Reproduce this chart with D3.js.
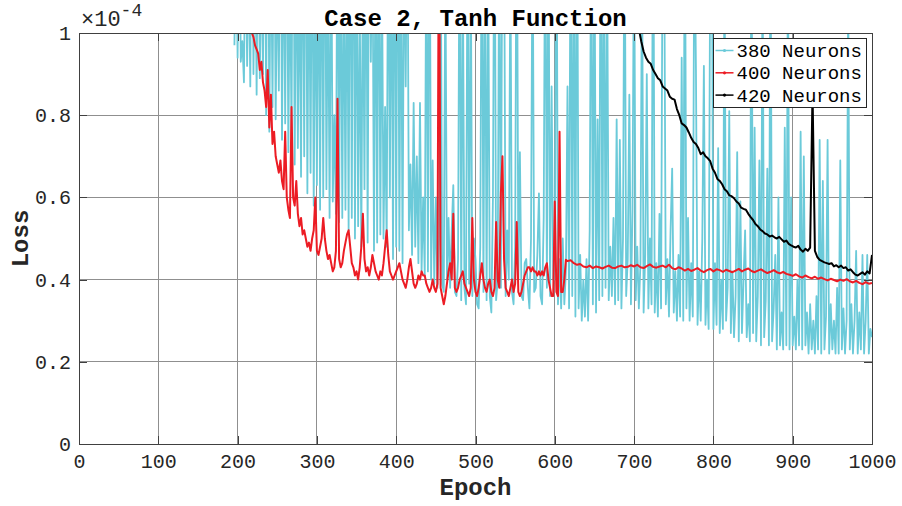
<!DOCTYPE html>
<html><head>
<meta charset="UTF-8">
<title>Case 2, Tanh Function</title>
<script src="https://d3js.org/d3.v7.min.js"></script>
<style>
  body { margin: 0; background: white; }
  text { font-family: "Liberation Mono", "DejaVu Sans Mono", monospace; fill: #262626; }
  .grid line { stroke: #8f8f8f; stroke-width: 1px; shape-rendering: crispEdges; }
  .axis path, .axis line { stroke: #404040; shape-rendering: crispEdges; }
  .axis text { font-size: 20px; fill: #262626; }
  .series { fill: none; stroke-linejoin: round; }
</style>
</head>
<body>
<script>

// loss values are stored in units of 1e-4 (the axis shows x10^-4)

// 380 neurons, epochs 196..598 every 2
var cyanStartA = 196, cyanStepA = 2;
var cyanLossA = [
  0.97, 1.30, 0.94, 1.40, 0.93, 0.98, 0.88, 1.30, 0.92, 1.20,
  0.87, 1.50, 0.90, 1.30, 0.85, 1.40, 0.89, 1.20, 0.90, 1.50,
  0.80, 1.60, 0.76, 1.30, 0.82, 1.40, 0.79, 1.20, 0.86, 1.50,
  0.74, 1.30, 0.78, 1.40, 0.71, 1.20, 0.75, 1.60, 0.68, 1.30,
  0.72, 1.20, 0.65, 1.40, 0.70, 1.50, 0.61, 1.30, 0.66, 1.40,
  0.58, 1.20, 0.63, 1.30, 0.57, 1.40, 0.60, 1.50, 0.62, 1.20,
  0.55, 1.30, 0.59, 0.80, 0.56, 1.40, 0.54, 1.30, 0.55, 1.20,
  0.57, 1.30, 0.52, 1.50, 0.55, 1.60, 0.50, 1.30, 0.53, 1.10,
  0.48, 1.20, 0.62, 1.40, 0.49, 1.50, 0.93, 1.30, 0.47, 1.30,
  0.49, 1.40, 0.51, 1.20, 0.50, 0.82, 0.48, 1.40, 0.60, 1.30,
  0.45, 1.50, 0.48, 1.60, 0.47, 1.30, 0.44, 1.30, 0.87, 1.40,
  0.52, 0.68, 0.46, 0.83, 0.48, 0.70, 0.44, 0.83, 0.42, 0.60,
  0.41, 1.30, 0.42, 1.50, 0.40, 0.69, 0.39, 0.60, 0.38, 0.50,
  1.30, 0.39, 0.37, 1.20, 0.40, 0.55, 0.38, 0.52, 0.63, 0.37,
  0.36, 0.45, 1.40, 0.35, 1.20, 0.38, 0.34, 1.30, 0.39, 1.20,
  0.36, 0.50, 0.45, 0.34, 0.33, 0.48, 1.40, 0.37, 1.30, 0.35,
  1.20, 0.36, 0.32, 0.60, 1.50, 0.35, 0.40, 1.30, 0.38, 1.40,
  1.30, 0.36, 0.52, 0.40, 1.20, 0.37, 0.34, 0.48, 1.50, 0.40,
  0.71, 0.36, 0.35, 0.44, 0.45, 0.38, 0.33, 0.50, 1.30, 0.37,
  0.38, 0.46, 0.61, 0.36, 0.34, 0.55, 1.40, 0.38, 1.30, 0.36,
  0.87, 0.40
];
// 380 neurons, epochs 600..1000 every 2
var cyanStartB = 600, cyanStepB = 2;
var cyanLossB = [
  0.40, 1.50, 0.34, 0.45, 0.33, 0.50, 0.34, 0.42, 0.87, 0.33,
  1.40, 0.36, 1.30, 0.31, 1.50, 0.33, 0.46, 0.30, 0.40, 0.31,
  0.45, 0.30, 0.52, 1.40, 0.34, 1.30, 0.32, 0.79, 0.35, 1.50,
  0.36, 1.30, 0.38, 1.20, 0.35, 0.48, 0.36, 0.55, 0.34, 0.79,
  0.35, 0.74, 0.33, 0.50, 1.40, 0.36, 0.45, 0.85, 0.34, 0.57,
  1.30, 0.35, 0.48, 0.33, 0.44, 1.20, 0.32, 0.46, 0.90, 0.33,
  0.50, 0.34, 1.50, 0.32, 0.44, 0.31, 0.56, 0.33, 1.30, 1.20,
  0.34, 0.45, 0.31, 0.52, 0.67, 0.32, 0.42, 0.30, 0.46, 0.31,
  0.94, 0.30, 1.40, 0.33, 0.55, 0.30, 0.44, 0.31, 1.30, 0.91,
  0.29, 0.42, 0.30, 0.50, 0.92, 0.29, 0.40, 0.28, 1.20, 1.30,
  0.28, 0.44, 0.29, 0.72, 0.27, 0.40, 0.28, 1.20, 0.30, 0.38,
  0.81, 0.27, 0.42, 0.26, 0.36, 0.71, 0.25, 0.59, 0.27, 0.40,
  0.52, 0.26, 0.34, 0.25, 1.30, 0.27, 0.77, 0.25, 0.36, 0.69,
  0.24, 1.20, 0.26, 0.35, 0.67, 0.24, 1.30, 0.25, 0.33, 0.46,
  0.23, 0.60, 0.24, 0.32, 0.23, 0.77, 0.24, 1.20, 0.23, 0.60,
  0.24, 0.31, 0.23, 0.40, 0.24, 0.76, 0.23, 0.70, 0.24, 0.32,
  0.22, 0.34, 0.23, 0.30, 0.22, 0.36, 0.23, 0.74, 0.22, 0.64,
  0.23, 0.31, 0.74, 0.22, 0.34, 0.23, 0.30, 0.22, 0.38, 0.22,
  0.69, 0.23, 0.33, 0.22, 0.30, 1.10, 0.23, 0.34, 0.22, 0.30,
  0.47, 0.22, 0.32, 0.23, 0.46, 0.22, 0.30, 0.46, 0.22, 0.28,
  0.26
];

// 400 neurons, epochs 216..614 every 2
var redStartA = 216, redStepA = 2;
var redLossA = [
  1.05, 1.00, 0.99, 0.97, 0.96, 0.95, 0.91, 0.93, 0.88, 0.86,
  0.82, 0.91, 0.77, 0.85, 0.73, 0.76, 0.70, 0.68, 0.66, 0.69,
  0.64, 0.62, 0.76, 0.60, 0.57, 0.55, 0.82, 0.60, 0.58, 0.64,
  0.56, 0.53, 0.55, 0.51, 0.52, 0.50, 0.48, 0.49, 0.47, 0.50,
  0.52, 0.60, 0.47, 0.46, 0.48, 0.50, 0.55, 0.50, 0.47, 0.45,
  0.46, 0.44, 0.42, 0.43, 0.47, 0.84, 0.45, 0.43, 0.44, 0.47,
  0.49, 0.51, 0.52, 0.48, 0.44, 0.43, 0.41, 0.42, 0.40, 0.43,
  0.48, 0.56, 0.45, 0.42, 0.43, 0.41, 0.43, 0.46, 0.44, 0.42,
  0.41, 0.40, 0.42, 0.41, 0.44, 0.48, 0.52, 0.46, 0.42, 0.41,
  0.40, 0.41, 0.42, 0.43, 0.44, 0.42, 0.40, 0.39, 0.38, 0.40,
  0.43, 0.45, 0.42, 0.39, 0.38, 0.39, 0.41, 0.40, 0.42, 0.41,
  0.41, 0.39, 0.38, 0.37, 0.38, 0.40, 0.38, 0.37, 0.39, 1.40,
  0.38, 0.36, 0.34, 0.36, 0.39, 0.42, 0.44, 0.40, 0.56, 0.38,
  0.37, 0.38, 0.40, 0.41, 0.42, 0.39, 0.38, 0.37, 0.36, 0.38,
  0.55, 0.40, 0.37, 0.36, 0.38, 0.41, 0.44, 0.40, 0.38, 0.37,
  0.39, 0.40, 0.37, 0.36, 0.38, 0.54, 0.40, 0.38, 0.61, 0.70,
  0.45, 0.38, 0.37, 0.36, 0.38, 0.40, 0.37, 0.39, 0.54, 0.37,
  0.36, 0.37, 0.39, 0.41, 0.42, 0.43, 0.43, 0.42, 0.43, 0.42,
  0.42, 0.41, 0.42, 0.41, 0.42, 0.41, 0.43, 0.44, 0.40, 0.38,
  0.36, 0.36, 0.59, 0.37, 0.36, 0.76, 0.37, 0.37, 0.40, 0.448
];
// 400 neurons, epochs 616..1000 every 4
var redStartB = 616, redStepB = 4;
var redLossB = [
  0.445, 0.447, 0.44, 0.436, 0.438, 0.432, 0.43, 0.434, 0.428, 0.432,
  0.43, 0.427, 0.431, 0.434, 0.429, 0.428, 0.432, 0.434, 0.43, 0.431,
  0.435, 0.432, 0.436, 0.43, 0.428, 0.433, 0.437, 0.431, 0.429, 0.432,
  0.434, 0.43, 0.436, 0.428, 0.425, 0.43, 0.427, 0.422, 0.426, 0.421,
  0.424, 0.428, 0.422, 0.418, 0.423, 0.426, 0.42, 0.425, 0.423, 0.419,
  0.424, 0.421, 0.418, 0.422, 0.426, 0.42, 0.424, 0.427, 0.421, 0.418,
  0.422, 0.425, 0.42, 0.416, 0.419, 0.423, 0.418, 0.415, 0.419, 0.414,
  0.412, 0.409, 0.413, 0.408, 0.405, 0.41, 0.406, 0.403, 0.407, 0.402,
  0.405, 0.401, 0.398, 0.402, 0.399, 0.396, 0.4, 0.397, 0.401, 0.396,
  0.393, 0.397, 0.392, 0.389, 0.394, 0.39, 0.392
];

// 420 neurons, epochs 706..1000 every 3
var blackStart = 706, blackStep = 3;
var blackLoss = [
  1.01, 0.98, 0.955, 0.94, 0.93, 0.925, 0.91, 0.90, 0.89, 0.885,
  0.87, 0.865, 0.86, 0.845, 0.84, 0.838, 0.815, 0.80, 0.78, 0.776,
  0.77, 0.758, 0.745, 0.735, 0.73, 0.72, 0.705, 0.71, 0.70, 0.695,
  0.688, 0.67, 0.66, 0.645, 0.64, 0.632, 0.62, 0.615, 0.605, 0.603,
  0.598, 0.59, 0.585, 0.575, 0.572, 0.57, 0.56, 0.552, 0.545, 0.535,
  0.53, 0.522, 0.518, 0.512, 0.51, 0.505, 0.507, 0.503, 0.50, 0.504,
  0.498, 0.492, 0.495, 0.487, 0.483, 0.48, 0.478, 0.482, 0.473, 0.468,
  0.475, 0.47, 0.478, 0.86, 0.47, 0.455, 0.448, 0.445, 0.442, 0.44,
  0.438, 0.44, 0.432, 0.435, 0.43, 0.434, 0.428, 0.43, 0.422, 0.425,
  0.418, 0.412, 0.41, 0.414, 0.418, 0.412, 0.42, 0.415, 0.46
];

var xTicks = [0, 100, 200, 300, 400, 500, 600, 700, 800, 900, 1000];
var yTicks = [0, 0.2, 0.4, 0.6, 0.8, 1];
var seriesNames = ["380 Neurons", "400 Neurons", "420 Neurons"];
var seriesColors = ["#6bcad9", "#ec1c24", "#000000"];
var seriesWidths = [1.8, 2, 2];

function toPoints(start, step, values) {
  return values.map(function(v, i) { return [start + i * step, v]; });
}

var cyanPts = toPoints(cyanStartA, cyanStepA, cyanLossA)
  .concat(toPoints(cyanStartB, cyanStepB, cyanLossB));
var redPts = toPoints(redStartA, redStepA, redLossA)
  .concat(toPoints(redStartB, redStepB, redLossB));
var blackPts = toPoints(blackStart, blackStep, blackLoss);
var allSeries = [cyanPts, redPts, blackPts];

var margin = {top: 33, right: 30, bottom: 62, left: 79};
var width = 902 - margin.left - margin.right,
    height = 506 - margin.top - margin.bottom;

var svgRoot = d3.select("body").append("svg")
    .attr("width", 902)
    .attr("height", 506);

var svg = svgRoot.append("g")
    .attr("transform", "translate(" + margin.left + "," + margin.top + ")");

var xScale = d3.scaleLinear().domain([0, 1000]).range([0, width]);
var yScale = d3.scaleLinear().domain([0, 1]).range([height, 0]);

svg.append("clipPath").attr("id", "plotclip")
  .append("rect").attr("x", 0).attr("y", 0).attr("width", width).attr("height", height);

// grid
var grid = svg.append("g").attr("class", "grid");
grid.selectAll(".gx").data(xTicks).enter().append("line")
    .attr("x1", function(d) { return xScale(d); })
    .attr("x2", function(d) { return xScale(d); })
    .attr("y1", 0).attr("y2", height);
grid.selectAll(".gy").data(yTicks).enter().append("line")
    .attr("x1", 0).attr("x2", width)
    .attr("y1", function(d) { return yScale(d); })
    .attr("y2", function(d) { return yScale(d); });

// lines
var valueline = d3.line()
    .x(function(d) { return xScale(d[0]); })
    .y(function(d) { return yScale(d[1]); });

svg.append("g").attr("clip-path", "url(#plotclip)")
  .selectAll("path").data(allSeries).enter().append("path")
    .attr("class", "series")
    .attr("stroke", function(d, i) { return seriesColors[i]; })
    .attr("stroke-width", function(d, i) { return seriesWidths[i]; })
    .attr("d", valueline);

// axes, box style with inward ticks
var fmt = function(d) { return String(d); };
svg.append("g").attr("class", "axis")
    .attr("transform", "translate(0," + height + ")")
    .call(d3.axisBottom(xScale).tickValues(xTicks).tickFormat(fmt).tickSizeInner(-8).tickSizeOuter(0).tickPadding(10));
svg.append("g").attr("class", "axis")
    .call(d3.axisLeft(yScale).tickValues(yTicks).tickFormat(fmt).tickSizeInner(-8).tickSizeOuter(0).tickPadding(8));
svg.append("g").attr("class", "axis")
    .call(d3.axisTop(xScale).tickValues(xTicks).tickFormat("").tickSizeInner(-8).tickSizeOuter(0));
svg.append("g").attr("class", "axis")
    .attr("transform", "translate(" + width + ",0)")
    .call(d3.axisRight(yScale).tickValues(yTicks).tickFormat("").tickSizeInner(-8).tickSizeOuter(0));

// exponent
var expo = svg.append("text").attr("x", 2).attr("y", -7).style("font-size", "22px");
expo.append("tspan").text("\u00d710");
expo.append("tspan").attr("dy", -10).style("font-size", "18px").text("-4");

// title and labels
svg.append("text")
    .attr("x", width / 2).attr("y", -7)
    .attr("text-anchor", "middle")
    .style("font-size", "24px").style("font-weight", "bold").style("fill", "#000")
    .text("Case 2, Tanh Function");

svg.append("text")
    .attr("x", width / 2).attr("y", height + 51)
    .attr("text-anchor", "middle")
    .style("font-size", "24px").style("font-weight", "bold").style("fill", "#262626")
    .text("Epoch");

svg.append("text")
    .attr("transform", "translate(" + (-51) + "," + (height / 2) + ") rotate(-90)")
    .attr("text-anchor", "middle")
    .style("font-size", "24px").style("font-weight", "bold").style("fill", "#262626")
    .text("Loss");

// legend
var legend = svgRoot.append("g").attr("transform", "translate(713.5,38.5)");
legend.append("rect")
    .attr("width", 153).attr("height", 69)
    .attr("fill", "white").attr("stroke", "#262626").attr("stroke-width", 1);
var rows = legend.selectAll(".row").data(seriesNames).enter().append("g")
    .attr("transform", function(d, i) { return "translate(0," + (12 + i * 22.3) + ")"; });
rows.append("line")
    .attr("x1", 2).attr("x2", 20).attr("y1", 0).attr("y2", 0)
    .attr("stroke", function(d, i) { return seriesColors[i]; })
    .attr("stroke-width", 1.5);
rows.append("circle")
    .attr("cx", 11).attr("cy", 0).attr("r", 1.6)
    .attr("fill", function(d, i) { return seriesColors[i]; });
rows.append("text")
    .attr("x", 23).attr("y", 0).attr("dy", "0.35em")
    .style("font-size", "19px").style("fill", "#000")
    .text(function(d) { return d; });

</script>
</body>
</html>
